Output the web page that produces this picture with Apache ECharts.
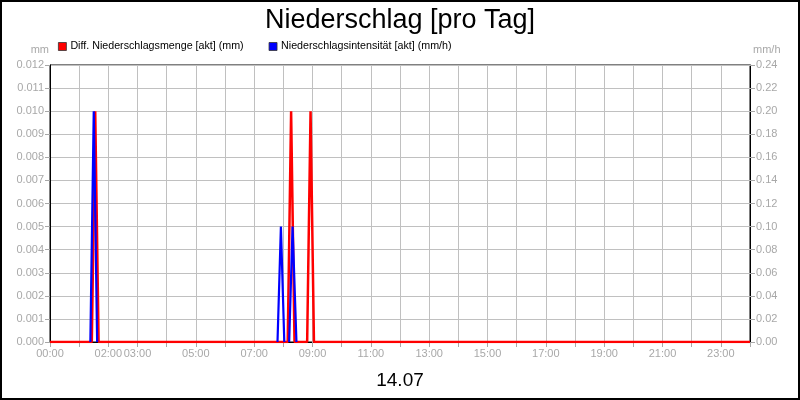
<!DOCTYPE html>
<html>
<head>
<meta charset="utf-8">
<script src="https://cdn.jsdelivr.net/npm/echarts@6/dist/echarts.min.js"></script>
<style>
html,body{margin:0;padding:0;background:#fff;}
#c{width:800px;height:400px;}
</style>
</head>
<body>
<div id="c"></div>
<script>
// ---- data ----
const titleText = 'Niederschlag [pro Tag]';
const dateText = '14.07';
const seriesNames = ['Diff. Niederschlagsmenge [akt] (mm)', 'Niederschlagsintensität [akt] (mm/h)'];
const tickLabels = ['00:00','02:00','03:00','05:00','07:00','09:00','11:00','13:00','15:00','17:00','19:00','21:00','23:00'];
const mengeTimes  = ['00:00','01:26','01:33','01:40','08:09','08:16','08:23','08:49','08:56','09:03','24:00'];
const mengeValues = [0, 0, 0.010, 0, 0, 0.010, 0, 0, 0.010, 0, 0];
// null = no intensity reading between rain events (gap in the line)
const intensTimes  = ['01:23','01:30','01:37','04:00','07:48','07:55','08:02','08:07','08:12','08:19','08:27'];
const intensValues = [0, 0.20, 0, null, 0, 0.10, 0, null, 0, 0.10, 0];

function toHours(s){ const p = s.split(':'); return Number(p[0]) + Number(p[1]) / 60; }
function pad(n){ return (n < 10 ? '0' : '') + n; }
const mengeData = mengeTimes.map((t,i)=>[toHours(t), mengeValues[i]]);
const intensData = intensTimes.map((t,i)=> intensValues[i] === null ? [toHours(t), '-'] : [toHours(t), intensValues[i]]);

const FONT = "'Liberation Sans', Arial, sans-serif";
const GRAY = '#a8a8a8';
const GRID = '#c0c0c0';

const chart = echarts.init(document.getElementById('c'), null, {renderer:'canvas'});
chart.setOption({
  animation: false,
  backgroundColor: '#fff',
  textStyle: { fontFamily: FONT },
  title: [
    { text: titleText, left: 'center', top: 2,
      textStyle: { fontSize: 27, fontWeight: 'normal', color: '#000', fontFamily: FONT } },
    { text: dateText, left: 'center', top: 366,
      textStyle: { fontSize: 19, fontWeight: 'normal', color: '#000', fontFamily: FONT } }
  ],
  legend: {
    data: seriesNames,
    left: 58, top: 41, padding: 0,
    icon: 'rect', itemWidth: 8, itemHeight: 8, itemGap: 25,
    itemStyle: { borderColor: '#333', borderWidth: 0.8 },
    textStyle: { fontSize: 10.7, color: '#000', fontFamily: FONT, padding: [0,0,0,-1] }
  },
  grid: { left: 50, right: 50, top: 65, bottom: 58, show: true, borderColor: '#000', borderWidth: 1, backgroundColor: 'transparent' },
  xAxis: {
    type: 'value', min: 0, max: 24, interval: 1,
    axisLine: { show: true, lineStyle: { color: '#000', width: 1 } },
    axisTick: { show: true, length: 5, lineStyle: { color: GRAY } },
    splitLine: { show: true, lineStyle: { color: GRID, width: 1 } },
    axisLabel: {
      color: GRAY, fontSize: 11, fontFamily: FONT, margin: 6, showMaxLabel: true,
      formatter: function(v){ const s = pad(Math.round(v)) + ':00'; return tickLabels.indexOf(s) >= 0 ? s : ''; }
    }
  },
  yAxis: [
    { type: 'value', min: 0, max: 0.012, interval: 0.001, position: 'left',
      name: 'mm', nameLocation: 'end', nameGap: 10,
      nameTextStyle: { color: GRAY, fontSize: 11, fontFamily: FONT, align: 'right', padding: [0, 1, 0, 0] },
      axisLine: { show: true, lineStyle: { color: '#000' } },
      axisTick: { show: true, length: 5, lineStyle: { color: GRAY } },
      splitLine: { show: true, lineStyle: { color: GRID } },
      axisLabel: { color: GRAY, fontSize: 11, fontFamily: FONT, margin: 6, formatter: v => v.toFixed(3) } },
    { type: 'value', min: 0, max: 0.24, interval: 0.02, position: 'right',
      name: 'mm/h', nameLocation: 'end', nameGap: 10,
      nameTextStyle: { color: GRAY, fontSize: 11, fontFamily: FONT, align: 'left', padding: [0, 0, 0, 3] },
      axisLine: { show: true, lineStyle: { color: '#000' } },
      axisTick: { show: true, length: 5, lineStyle: { color: GRAY } },
      splitLine: { show: false },
      axisLabel: { color: GRAY, fontSize: 11, fontFamily: FONT, margin: 6, formatter: v => v.toFixed(2) } }
  ],
  series: [
    { name: seriesNames[0], type: 'line', yAxisIndex: 0, data: mengeData, z: 3,
      showSymbol: false, symbol: 'none', color: '#ff0000',
      lineStyle: { color: '#ff0000', width: 2.5, join: 'bevel' } },
    { name: seriesNames[1], type: 'line', yAxisIndex: 1, data: intensData, z: 4,
      showSymbol: false, symbol: 'none', color: '#0000ff', connectNulls: false,
      lineStyle: { color: '#0000ff', width: 2.2, join: 'bevel' } }
  ],
  graphic: [
    { type: 'rect', shape: { x: 1, y: 1, width: 798, height: 398 },
      style: { fill: 'none', stroke: '#000', lineWidth: 2 }, silent: true, z: 100 }
  ]
});
</script>
</body>
</html>
